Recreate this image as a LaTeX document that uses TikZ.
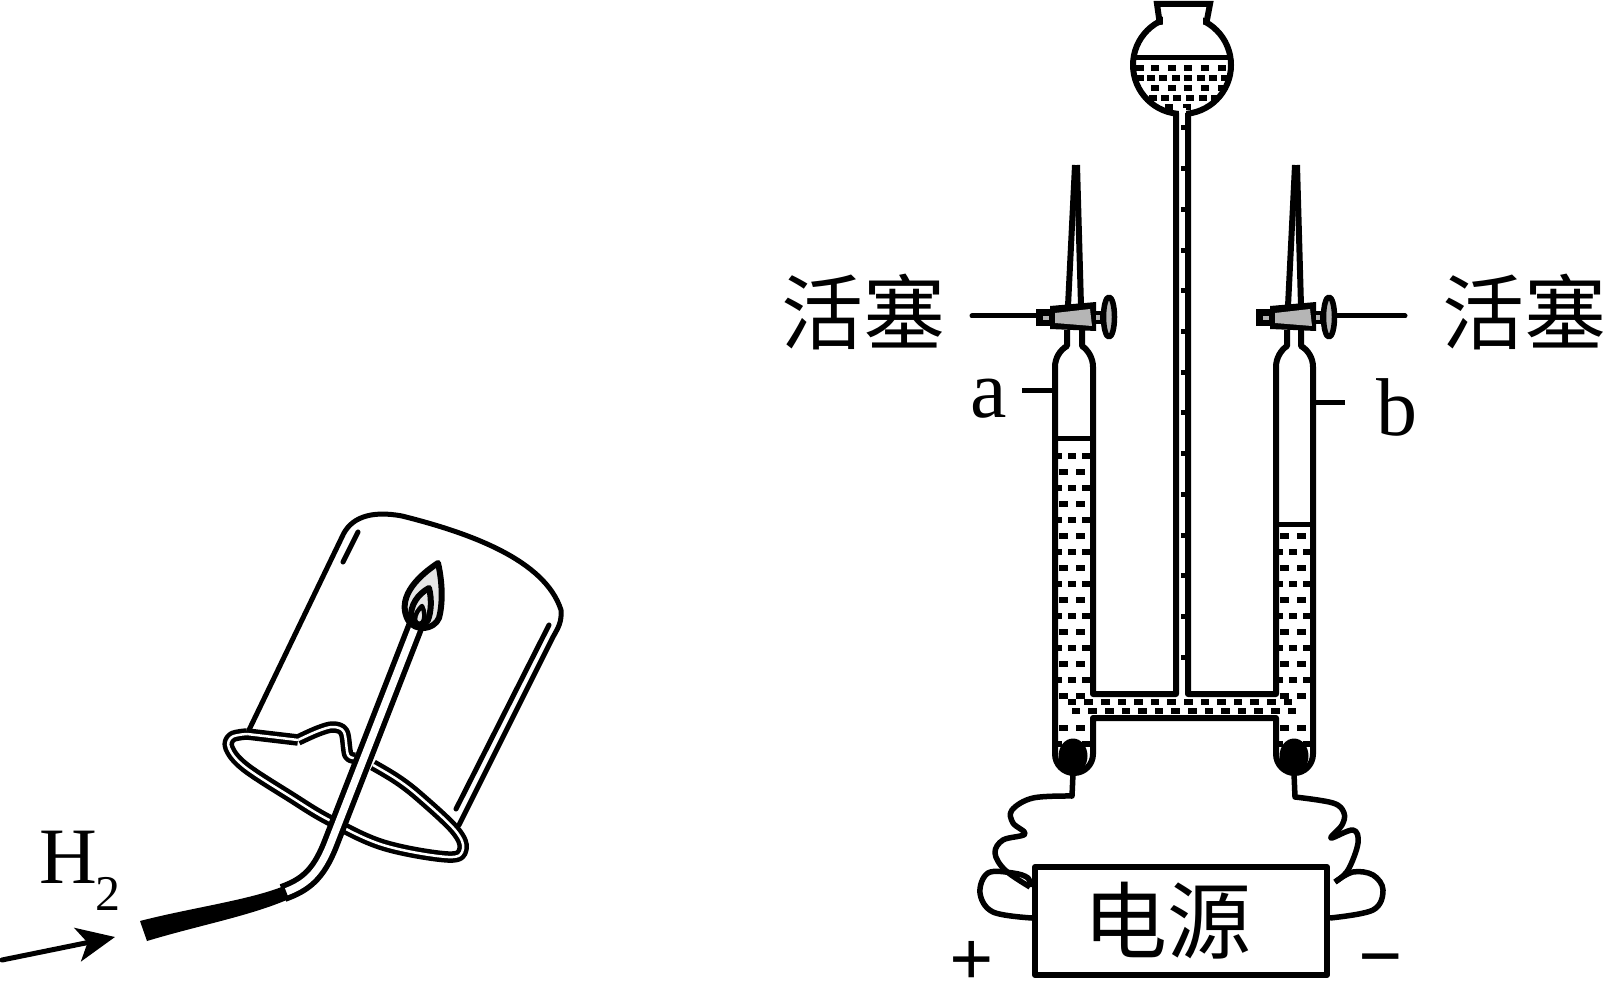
\documentclass[tikz,border=0pt]{standalone}
\usepackage{fontspec}
\setmainfont{Liberation Serif}
\newfontfamily\cjk{Noto Sans CJK SC}
\usetikzlibrary{arrows.meta, shapes.geometric}
\definecolor{valvegray}{HTML}{B5B5B5}
\definecolor{flamegray}{HTML}{E6E6E6}
\newcommand{\dropmark}[2]{\fill ({#1-4.3},{#2-2.6}) rectangle ({#1+4.3},{#2+2.6});}

\begin{document}
\begin{tikzpicture}[x=1pt,y=-1pt,line join=round]
        \tikzstyle{glass}=[line width=6pt]
        \tikzstyle{cup}=[line width=5pt,line cap=round]
        \tikzstyle{rim}=[line width=4.5pt,double,double distance=2.5pt]
        \tikzstyle{pipe}=[line width=5.5pt,double,double distance=7.5pt]
        \tikzstyle{wire}=[line width=5.5pt]
        \tikzstyle{tick}=[line width=5pt]
        \tikzstyle{label text}=[inner sep=0pt,anchor=base,font=\fontsize{82}{82}\selectfont]
        \tikzstyle{sign text}=[inner sep=0pt,font=\bfseries\fontsize{78}{78}\selectfont]
        \tikzstyle{cjk text}=[inner sep=0pt,font=\cjk\fontsize{82}{82}\selectfont]
        \tikzstyle{electrode}=[ellipse,fill=black,minimum width=29pt,minimum height=35pt,inner sep=0pt]
        \tikzstyle{power}=[draw,line width=6pt,fill=white,minimum width=292pt,minimum height=108pt,inner sep=0pt]

        \useasboundingbox (0,0) rectangle (1605,981);

        % The inverted beaker
        \draw[cup] (249,730) -- (342,537) .. controls (350,518) and (370,510) .. (402,516)
            .. controls (470,533) and (545,560) .. (561,610)
            .. controls (562,622) and (558,628) .. (553,637) -- (459,825);
        \draw[cup] (358,532) -- (343,562);
        \draw[cup] (549,625) -- (456,809);

        % Rim of the beaker
        \draw[rim] plot[smooth,tension=.55] coordinates {(356,758) (348,755) (344,732) (333,727)
            (318,731) (298,740)};
        \draw[rim] (298,740) -- (247,734);
        \draw[rim] plot[smooth,tension=.6] coordinates {(247,734) (232,737) (229,748) (245,767) (291,797)
            (329,820) (383,845) (448,857) (463,849) (455,830) (421,798) (398,780) (373,765)};

        % Delivery tube
        \draw[pipe] (417,622) -- (330,845) .. controls (318,875) and (305,885) .. (283,893);
        \fill (140,921) .. controls (190,908) and (250,900) .. (284,886) -- (289,899)
            .. controls (250,916) and (200,925) .. (147,941) -- cycle;

        % Flame
        \draw[line width=6pt,fill=flamegray] (438,563) .. controls (443,585) and (442.5,605) .. (439,618)
            .. controls (434,630) and (415,632) .. (408,620) .. controls (400,605) and (405,585) .. cycle;
        \draw[line width=6pt,fill=flamegray] (429,588) .. controls (432,600) and (431,612) .. (428,620)
            .. controls (424,626) and (415,626) .. (411,618) .. controls (410,605) and (418,594) .. cycle;
        \draw[line width=4.5pt,fill=flamegray] (422,606) .. controls (425,612) and (425,618) .. (423,622)
            .. controls (420,625) and (416,624) .. (415,620) .. controls (415,614) and (418,610) .. cycle;

        % Gas label and arrow
        \node[label text,font=\fontsize{80}{80}\selectfont] (gas) at (68,883) {H};
        \node[label text,font=\fontsize{50}{50}\selectfont] (gasidx) at (108,910) {2};
        \coordinate (gastail) at (2,960);
        \coordinate (gastip) at (115,937);
        \draw[line width=5pt,line cap=round,-{Stealth[length=38pt,width=34pt,inset=10pt]}] (gastail) -- (gastip);

        % Liquid in the bulb
        \foreach \x in {1140,1155,1172,1188,1205,1222} {\dropmark{\x}{68}}
        \foreach \x in {1140,1151,1163,1176,1188,1201,1213,1225} {\dropmark{\x}{78}}
        \foreach \x in {1155,1172,1188,1205,1222} {\dropmark{\x}{88}}
        \foreach \x in {1153,1165,1177,1190,1203,1215} {\dropmark{\x}{98}}
        \foreach \x in {1169,1187} {\dropmark{\x}{107}}

        % Liquid in the stem
        \foreach \k in {0,...,13}
            \fill (1180.5,{125.5+40.7*\k}) rectangle (1187,{130.5+40.7*\k});

        % Liquid in the two arms
        \foreach \c/\kmin in {1072/0,1293/5}
            \foreach \k in {\kmin,...,18} {
                \pgfmathtruncatemacro{\rowy}{456+16*\k}
                \ifnum\k=16\relax\else
                    \ifodd\k
                        \dropmark{\c-8.5}{\rowy}
                        \dropmark{\c+8.5}{\rowy}
                    \else
                        \dropmark{\c-14}{\rowy}
                        \dropmark{\c}{\rowy}
                        \dropmark{\c+14}{\rowy}
                    \fi
                \fi
            }

        % Liquid in the cross pipe
        \foreach \k in {0,...,13} {
            \dropmark{1072+16.6*\k}{702}
            \dropmark{1076+16.6*\k}{711}
        }

        % Bulb of the funnel
        \draw[line width=6pt] (1182,65) circle[radius=49];
        \fill[white] (1163,10) rectangle (1203,30);
        \fill[white] (1179,108) rectangle (1186,125);
        \draw[line width=6pt,miter limit=4,line join=miter] (1160,25) -- (1157,4) -- (1210,4) -- (1206,25);
        \draw[line width=5pt] (1135,58) -- (1229,58);

        % Outline of the arms and the cross pipe
        \draw[glass] (1067,330) -- (1067,346) .. controls (1060,350) and (1055,358) .. (1055,367)
            -- (1055,754) .. controls (1055,764.5) and (1063.5,773) .. (1074,773)
            .. controls (1084.5,773) and (1093,764.5) .. (1093,754) -- (1093,718) -- (1276,718)
            -- (1276,754) .. controls (1276,764.5) and (1284.5,773) .. (1294.5,773)
            .. controls (1304.5,773) and (1313,764.5) .. (1313,754)
            -- (1313,367) .. controls (1313,358) and (1308,350) .. (1301,346) -- (1301,330);
        \draw[glass] (1082,330) -- (1082,346) .. controls (1088,350) and (1093,358) .. (1093,367)
            -- (1093,694) -- (1176,694) -- (1176,113);
        \draw[glass] (1188,113) -- (1188,694) -- (1276,694) -- (1276,367)
            .. controls (1276,358) and (1281,350) .. (1287,346) -- (1287,330);
        \draw[line width=5pt] (1055,438) -- (1093,438);
        \draw[line width=5pt] (1276,524) -- (1313,524);

        % Jets and stopcocks
        \foreach \dx in {0,220} {
            \begin{scope}[shift={(\dx,0)}]
                \draw[line width=6pt] (1068,306) -- (1075,165);
                \draw[line width=6pt] (1081,306) -- (1077,165);
                \fill (1050,306) -- (1096,302) -- (1096,331) -- (1050,329) -- cycle;
                \fill[valvegray] (1055,313) -- (1090,309) -- (1092,326) -- (1055,323) -- cycle;
                \fill (1036,309) rectangle (1050,326);
                \fill[valvegray] (1043,316) rectangle (1049,320);
                \fill (1096,311) rectangle (1103,324);
                \fill[valvegray] (1096,315) rectangle (1100,320);
                \draw[line width=5.5pt,fill=valvegray] (1109,317) ellipse[x radius=5.5,y radius=20];
            \end{scope}
        }

        % Stopcock labels
        \node[cjk text] (valveA) at (863,312) {活塞};
        \node[cjk text] (valveB) at (1524,312) {活塞};
        \coordinate (valveAend) at (972,316);
        \coordinate (valveAcock) at (1037,316);
        \coordinate (valveBend) at (1405,316);
        \coordinate (valveBcock) at (1336,316);
        \draw[tick,line cap=round] (valveAend) -- (valveAcock);
        \draw[tick,line cap=round] (valveBend) -- (valveBcock);

        % Arm labels
        \node[label text] (armA) at (989,417) {a};
        \node[label text] (armB) at (1397,435) {b};
        \coordinate (armAtick) at (1022,390);
        \coordinate (armAwall) at (1053,390);
        \coordinate (armBtick) at (1345,402);
        \coordinate (armBwall) at (1315,402);
        \draw[tick] (armAtick) -- (armAwall);
        \draw[tick] (armBtick) -- (armBwall);

        % Power supply and electrodes
        \node[power] (supply) at (1181,921) {};
        \node[inner sep=0pt,font=\cjk\fontsize{84}{84}\selectfont] (supplytxt) at (1167,921) {电源};
        \node[electrode] (elecA) at (1073,756) {};
        \node[electrode] (elecB) at (1294,756) {};

        \draw[wire] (elecA.south) -- (1072,796) -- plot[smooth,tension=.6] coordinates {(1072,796) (1033,798)
            (1012,810) (1013,823) (1025,834) (1003,840) (995,853) (1005,870) (1030,887)};
        \draw[wire] plot[smooth,tension=.6] coordinates {(1030,887) (1028,878) (1013,873) (988,873) (980,893) (993,912)
            ([yshift=3pt]supply.west)};
        \draw[wire] (elecB.south) -- (1295,797) -- plot[smooth,tension=.6] coordinates {(1295,797) (1333,803)
            (1344,813) (1342,825) (1331,838) (1353,830) (1358,843) (1348,870) (1335,882)};
        \draw[wire] plot[smooth,tension=.6] coordinates {(1335,882) (1353,872) (1373,875) (1383,890) (1373,910)
            ([yshift=3pt]supply.east)};

        % Polarity signs
        \node[sign text] (plus) at (972,963) {+};
        \node[sign text] (minus) at (1381,968) {−};
\end{tikzpicture}
\end{document}
